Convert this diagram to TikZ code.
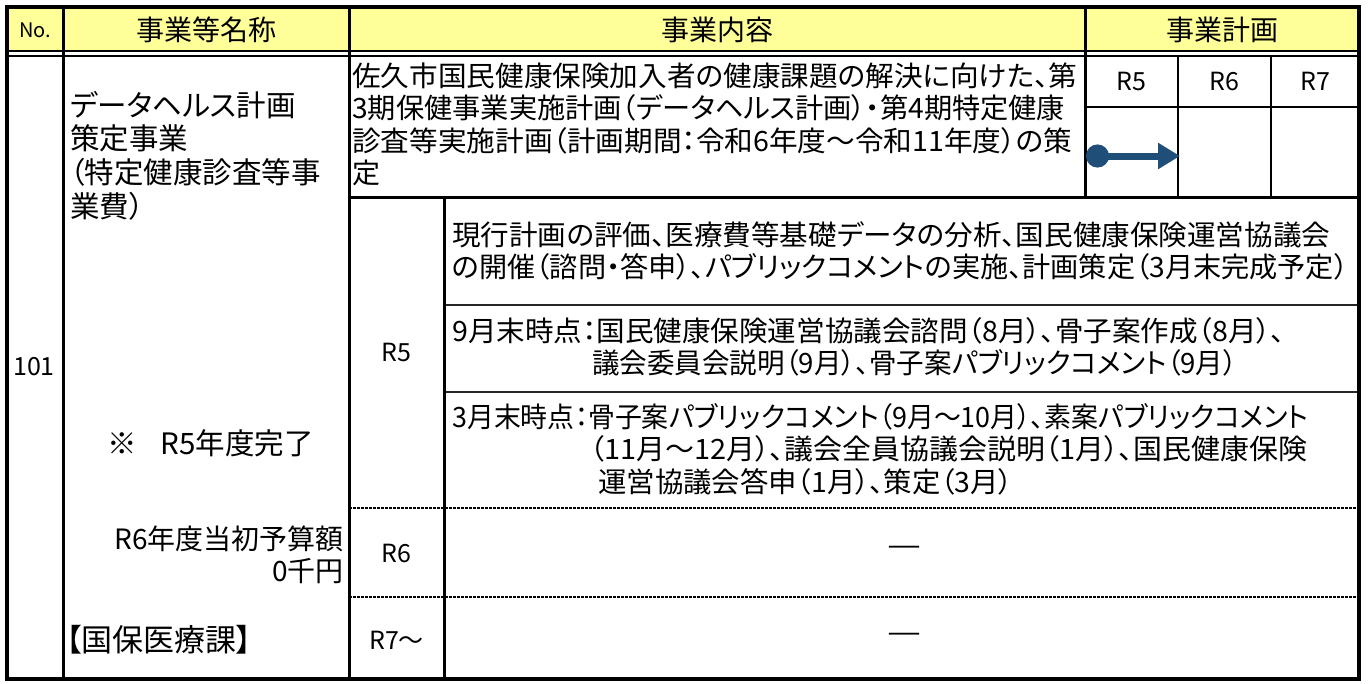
\documentclass[tikz,border=0pt]{standalone}
\usepackage{fontspec}
\setmainfont{Noto Sans CJK JP}[RawFeature=+palt]
\newfontfamily\dashfont{Noto Sans CJK JP}[FakeBold=1]
\usepackage{graphicx}
\usepackage{tikz}
\usetikzlibrary{arrows.meta, positioning}
\definecolor{hdryellow}{RGB}{255,255,153}
\definecolor{planblue}{RGB}{31,78,121}
\newcommand{\fitto}[2]{\resizebox{#1}{\height}{#2}}

\begin{document}
\begin{tikzpicture}[x=1pt, y=-1pt,
        txt/.style={inner sep=0pt, align=left, font=\fontsize{28}{32.5}\selectfont},
        hdr/.style={inner sep=0pt, font=\fontsize{28}{32}\selectfont},
        yr/.style={inner sep=0pt, font=\fontsize{25}{28}\selectfont},
        nil/.style={inner sep=0pt, font=\dashfont\fontsize{35}{36}\selectfont},
        rule/.style={line width=3pt},
        subrule/.style={line width=2.5pt},
        thinrule/.style={line width=1.2pt, black!85},
        dotrule/.style={line width=2pt, dash pattern=on 2.5pt off 1.5pt},
        planarrow/.style={draw=planblue, line width=7pt,
            {Circle[length=23pt, fill=planblue]}-{Triangle[length=22pt, width=25pt, fill=planblue]}}]
    \useasboundingbox (0, 0) rectangle (1368, 683);
    \fill [hdryellow] (7, 7) rectangle (1359, 51);
    \draw [dotrule] (349, 508) -- (1359, 508);
    \draw [dotrule] (349, 597) -- (1359, 597);
    \draw [thinrule] (444, 305) -- (1359, 305);
    \draw [thinrule] (444, 392) -- (1359, 392);
    \draw [line width=2pt] (7, 51) -- (1359, 51);
    \draw [line width=2pt] (7, 55.5) -- (1359, 55.5);
    \draw [rule] (63, 7) -- (63, 679);
    \draw [rule] (349, 7) -- (349, 679);
    \draw [rule] (1085, 7) -- (1085, 197);
    \draw [rule] (444, 197) -- (444, 679);
    \draw [subrule] (1178, 55) -- (1178, 197);
    \draw [subrule] (1271, 55) -- (1271, 197);
    \draw [subrule] (1085, 107) -- (1359, 107);
    \draw [rule] (349, 197) -- (1359, 197);
    \draw [line width=3.5pt] (7, 7) rectangle (1359, 679);

    \node [yr, font=\fontsize{20}{24}\selectfont] (hdrno) at (35, 30) {No.};
    \node [hdr] (hdrname) at (206, 30) {事業等名称};
    \node [hdr] (hdrbody) at (717, 30) {事業内容};
    \node [hdr] (hdrplan) at (1222, 30) {事業計画};

    \node [yr] (no) at (34, 367) {101};
    \node [txt, anchor=west, font=\fontsize{29.5}{33.7}\selectfont] (title) at (70, 155.5)
        {データヘルス計画\\策定事業\\（特定健康診査等事\\業費）};
    \node [txt, anchor=west, font=\fontsize{29.5}{33}\selectfont] (done) at (107, 443) {※\hspace{24pt}R5年度完了};
    \node [txt, anchor=east, align=right] (budget) at (344, 555) {R6年度当初予算額\\0千円};
    \node [txt, anchor=west, font=\fontsize{31}{34}\selectfont] (section) at (66, 640) {【国保医療課】};

    \node [txt, anchor=west] (summary) at (352, 124.5)
        {\fitto{725pt}{佐久市国民健康保険加入者の健康課題の解決に向けた、第}\\
         \fitto{713pt}{3期保健事業実施計画（データヘルス計画）・第4期特定健康}\\
         \fitto{720pt}{診査等実施計画（計画期間：令和6年度～令和11年度）の策}\\
         定};
    \node [yr] (planfive) at (1131.5, 81) {R5};
    \node [yr] (plansix) at (1224.5, 81) {R6};
    \node [yr] (planseven) at (1315, 81) {R7};
    \coordinate (arrowtail) at (1086, 156);
    \coordinate (arrowtip) at (1180, 156);
    \draw [planarrow] (arrowtail) -- (arrowtip);

    \node [yr] (yrfive) at (396.5, 352.5) {R5};
    \node [yr] (yrsix) at (396.5, 553) {R6};
    \node [yr] (yrseven) at (396.5, 640) {R7～};

    \node [txt, anchor=west] (stepa) at (452, 251)
        {\fitto{878pt}{現行計画の評価、医療費等基礎データの分析、国民健康保険運営協議会}\\
         \fitto{896pt}{の開催（諮問・答申）、パブリックコメントの実施、計画策定（3月末完成予定）}};
    \node [txt, anchor=west] (stepb) at (452, 347)
        {\fitto{833pt}{9月末時点：国民健康保険運営協議会諮問（8月）、骨子案作成（8月）、}\\
         \hspace*{140pt}\fitto{645pt}{議会委員会説明（9月）、骨子案パブリックコメント（9月）}};
    \node [txt, anchor=west] (stepc) at (452, 449)
        {\fitto{856pt}{3月末時点：骨子案パブリックコメント（9月～10月）、素案パブリックコメント}\\
         \hspace*{138pt}\fitto{717pt}{（11月～12月）、議会全員協議会説明（1月）、国民健康保険}\\
         \hspace*{146pt}\fitto{415pt}{運営協議会答申（1月）、策定（3月）}};
    \node [nil] (nilsix) at (904, 553) {―};
    \node [nil] (nilseven) at (904, 640) {―};
\end{tikzpicture}
\end{document}
